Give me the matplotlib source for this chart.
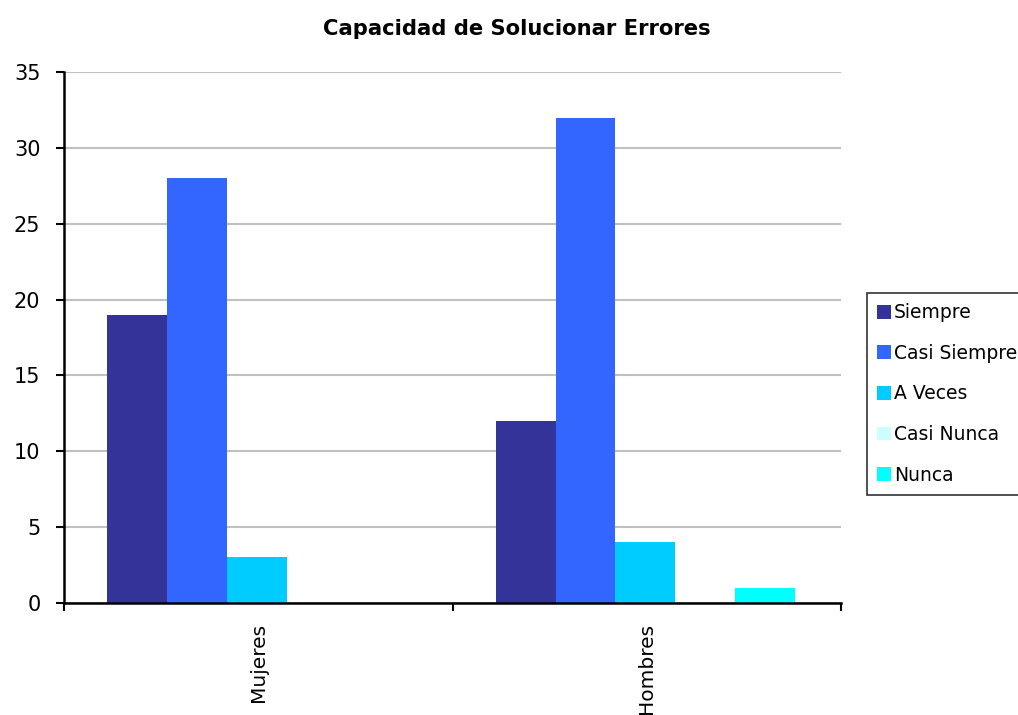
import numpy as np
import matplotlib
matplotlib.use("Agg")
import matplotlib.pyplot as plt
from matplotlib.patches import Patch

categories = ["Mujeres", "Hombres"]
series_names = ["Siempre", "Casi Siempre", "A Veces", "Casi Nunca", "Nunca"]
siempre = [19, 12]
casi_siempre = [28, 32]
a_veces = [3, 4]
casi_nunca = [0, 0]
nunca = [0, 1]
y_ticks = [0, 5, 10, 15, 20, 25, 30, 35]

series_values = [siempre, casi_siempre, a_veces, casi_nunca, nunca]
colors = ["#333399", "#3366FF", "#00CCFF", "#CCFFFF", "#00FFFF"]

fig = plt.figure(figsize=(10.18, 7.15), dpi=100)
ax = fig.add_axes([64 / 1018, 1 - 603 / 715, (841 - 64) / 1018, (603 - 72) / 715])

n = len(series_names)
bar_w = 1 / 6.5
x = np.arange(len(categories))
for i, (name, vals, c) in enumerate(zip(series_names, series_values, colors)):
    offs = (i - (n - 1) / 2) * bar_w
    ax.bar(x + offs - 0.004, vals, width=bar_w, color=c, edgecolor="none", zorder=2)

ax.set_xlim(-0.5, len(categories) - 0.5)
ax.set_ylim(0, 35)
ax.set_yticks(y_ticks)
ax.set_yticklabels([str(t) for t in y_ticks], fontsize=15)
ax.yaxis.grid(True, color="#C0C0C0", linewidth=1.5, zorder=0)
ax.set_axisbelow(True)

# category boundaries carry the tick marks; labels sit at the centres
ax.set_xticks([-0.5, 0.5, 1.5])
ax.set_xticklabels([])
ax.tick_params(axis="x", direction="out", length=6, width=1.5, color="black")
ax.tick_params(axis="y", direction="out", length=6, width=1.5, color="black", pad=11)
for xi, lab in zip(x, categories):
    ax.text(xi, -1.3, lab, rotation=90, ha="center", va="top", fontsize=14.5,
            transform=ax.transData, clip_on=False)

for s in ["top", "right"]:
    ax.spines[s].set_visible(False)
for s in ["left", "bottom"]:
    ax.spines[s].set_linewidth(1.8)
    ax.spines[s].set_color("black")
    ax.spines[s].set_zorder(3)

fig.text(517 / 1018, 1 - 29 / 715, "Capacidad de Solucionar Errores", ha="center",
         va="center", fontsize=15.2, fontweight="bold")

handles = [Patch(facecolor=c, edgecolor="none") for c in colors]
leg = fig.legend(handles, series_names, loc="upper left",
                 bbox_to_anchor=(867 / 1018, 1 - 293 / 715), fontsize=13.5,
                 frameon=True, fancybox=False, edgecolor="black",
                 handlelength=0.75, handleheight=0.75, handletextpad=0.15,
                 labelspacing=1.15, borderpad=0.55, borderaxespad=0)
leg.get_frame().set_linewidth(1.2)

fig.savefig("out.png", dpi=100)
